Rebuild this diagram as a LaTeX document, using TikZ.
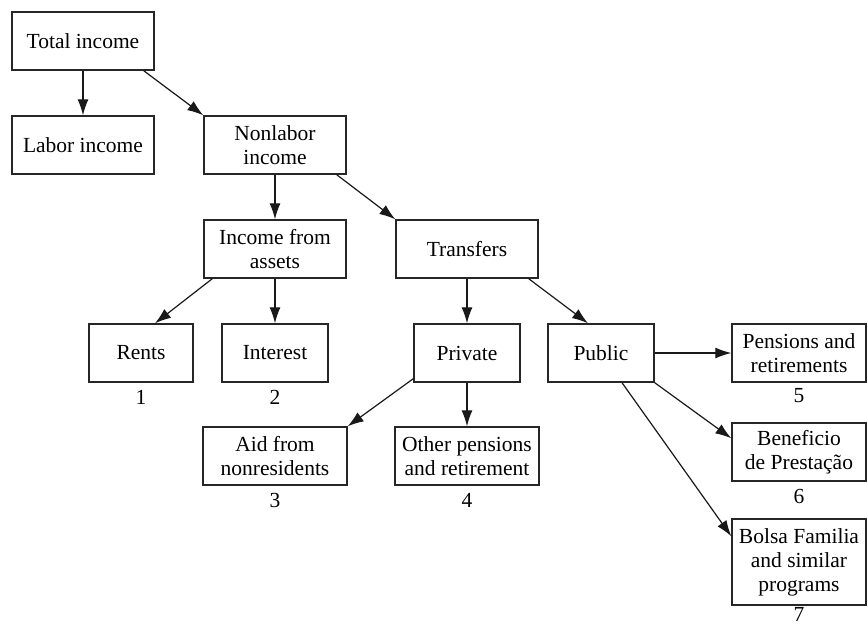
\documentclass[tikz,border=0pt]{standalone}
\usepackage{fontspec}
\setmainfont{Liberation Serif}
\usetikzlibrary{arrows.meta}
\begin{document}
\begin{tikzpicture}[x=1pt,y=-1pt,
  box/.style={draw=black!85,line width=1.4pt,inner sep=0pt,align=center,
    font=\fontsize{21.5}{24}\selectfont},
  bw/.style={minimum width=142pt},
  sw/.style={minimum width=106pt},
  rw/.style={minimum width=134pt},
  oneh/.style={minimum height=58pt},
  threeh/.style={minimum height=86pt},
  num/.style={inner sep=0pt,font=\fontsize{21.5}{24}\selectfont},
  arr/.style={line width=1.2pt,draw=black!90,-{Latex[length=16pt,width=11pt]}}]
\useasboundingbox (0,0) rectangle (868,627);

\node[box,bw,oneh] (total) at (83,41) {Total income};
\node[box,bw,oneh] (labor) at (83,145) {Labor income};
\node[box,bw,oneh] (nonlabor) at (275,145) {Nonlabor\\income};
\node[box,bw,oneh] (assets) at (275,249) {Income from\\assets};
\node[box,bw,oneh] (transfers) at (467,249) {Transfers};
\node[box,minimum width=104pt,oneh] (rents) at (141,353) {Rents};
\node[box,sw,oneh] (interest) at (275,353) {Interest};
\node[box,sw,oneh] (private) at (467,353) {Private};
\node[box,sw,oneh] (public) at (601,353) {Public};
\node[box,minimum width=144pt,oneh] (aid) at (275,456) {Aid from\\nonresidents};
\node[box,minimum width=144pt,oneh] (other) at (467,456) {Other pensions\\and retirement};
\node[box,rw,oneh] (pensions) at (799,353) {Pensions and\\retirements};
\node[box,rw,oneh] (benef) at (799,452) {Beneficio\\de Prestação};
\node[box,rw,threeh] (bolsa) at (799,562) {Bolsa Familia\\and similar\\programs};

\node[num] (n1) at (141,397) {1};
\node[num] (n2) at (275,397) {2};
\node[num] (n3) at (275,500) {3};
\node[num] (n4) at (467,500) {4};
\node[num] (n5) at (799,396) {5};
\node[num] (n6) at (799,496) {6};
\node[num] (n7) at (799,614) {7};

\draw[arr] (total.south) -- (labor.north);
\draw[arr] ([xshift=-11pt]total.south east) -- (nonlabor.north west);
\draw[arr] (nonlabor.south) -- (assets.north);
\draw[arr] ([xshift=-10pt]nonlabor.south east) -- (transfers.north west);
\draw[arr] ([xshift=9pt]assets.south west) -- ([xshift=14pt]rents.north);
\draw[arr] (assets.south) -- (interest.north);
\draw[arr] (transfers.south) -- (private.north);
\draw[arr] ([xshift=-10pt]transfers.south east) -- ([xshift=-13pt]public.north);
\draw[arr] ([yshift=4pt]private.south west) -- (aid.north east);
\draw[arr] (private.south) -- (other.north);
\draw[arr] (public.east) -- (pensions.west);
\draw[arr] (public.south east) -- ([yshift=-16pt]benef.north west);
\draw[arr] ([xshift=21pt]public.south) -- ([yshift=-18pt]bolsa.north west);
\end{tikzpicture}
\end{document}
